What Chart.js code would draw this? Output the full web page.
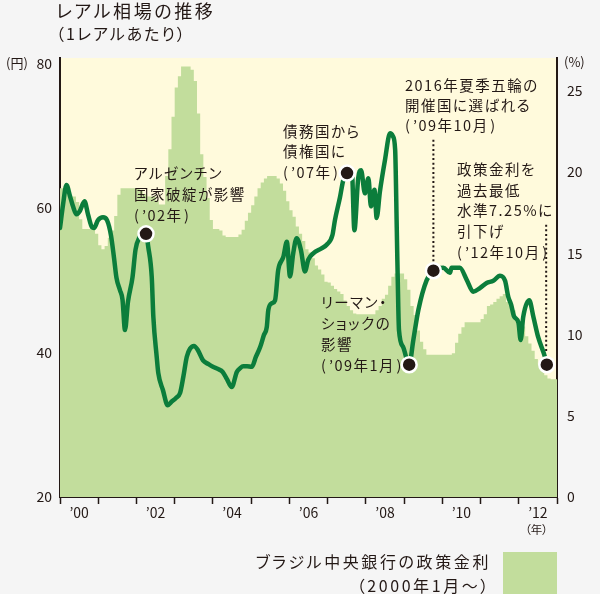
<!DOCTYPE html>
<html><head><meta charset="utf-8">
<script src="https://cdn.jsdelivr.net/npm/chart.js@4.4.1/dist/chart.umd.min.js"></script>
<style>
html,body{margin:0;padding:0;background:#f5f5f5;}
#wrap{position:relative;width:600px;height:594px;overflow:hidden;background:#f5f5f5;}
canvas{position:absolute;left:0;top:0;}
.t{position:absolute;color:#231815;font-family:'Liberation Sans Narrow','Noto Sans CJK JP',sans-serif;white-space:nowrap;font-feature-settings:"palt";}
.a{font-size:14.5px;letter-spacing:1.5px;}
.p{margin:0 1.5px;}
#legbox{position:absolute;left:503px;top:552px;width:54px;height:42px;background:#c2dd9c;}
</style></head><body>
<div id="wrap">
<canvas id="c" width="600" height="594"></canvas>
<div class="t" style="left:56px;top:0px;font-size:18px;letter-spacing:2.6px;line-height:21px;">レアル相場の推移</div>
<div class="t" style="left:56px;top:23px;font-size:16px;letter-spacing:2px;line-height:20px;">（1レアルあたり）</div>
<div class="t" style="left:6px;top:54px;font-size:13px;line-height:18px;">(円)</div>
<div class="t" style="left:564px;top:53px;font-size:13px;line-height:18px;">(%)</div>
<div class="t" style="left:525px;top:521px;font-size:11.5px;line-height:16px;">（年）</div>
<div class="t a" style="left:134px;top:162px;line-height:21px;">アルゼンチン<br>国家破綻が影響<br>(<span class="p">’02年</span>)</div>
<div class="t a" style="left:283px;top:121px;line-height:20.3px;">債務国から<br>債権国に<br>(<span class="p">’07年</span>)</div>
<div class="t a" style="left:405px;top:75px;line-height:20px;">2016年夏季五輪の<br>開催国に選ばれる<br>(<span class="p">’09年10月</span>)</div>
<div class="t a" style="left:457px;top:159px;line-height:20.7px;">政策金利を<br>過去最低<br>水準7.25%に<br>引下げ<br>(<span class="p">’12年10月</span>)</div>
<div class="t a" style="left:321px;top:291px;line-height:21.1px;">リーマン・<br>ショックの<br>影響<br>(<span class="p">’09年1月</span>)</div>
<div class="t" style="right:109px;top:549px;font-size:16px;letter-spacing:2.6px;line-height:24.3px;text-align:right;">ブラジル中央銀行の政策金利<br>（2000年1月～）</div>
<div id="legbox"></div>
</div>
<script>
// ---- data ----
// Brazil central bank policy rate (Selic), monthly, Jan 2000 .. Dec 2012 (%)
const selicMonthly = [
 19,19,18.85,18.5,18.5,18.15,17.1,16.5,16.5,16.5,16.5,16.2,
 15.5,15.25,15.45,15.95,16.4,17.3,18.6,19,19,19,19,19,
 19,18.9,18.65,18.5,18.5,18.5,18.25,18,18,19.75,21.4,23.4,
 25.2,25.9,26.5,26.5,26.5,26.3,25.6,23.6,21.1,19.7,18.4,17.05,
 16.5,16.5,16.4,16.1,16,16,16,16,16.15,16.45,17,17.5,
 17.95,18.5,19,19.35,19.6,19.75,19.75,19.75,19.6,19.3,18.85,18.2,
 17.65,17.25,16.65,16.2,15.75,15.25,15.05,14.7,14.25,14.0,13.7,13.25,
 13.2,13,12.8,12.65,12.5,12.1,11.75,11.5,11.3,11.25,11.25,11.25,
 11.25,11.25,11.25,11.5,11.75,12.2,12.45,13,13.55,13.75,13.75,13.75,
 13.4,12.75,11.75,11.2,10.25,9.55,9.1,8.75,8.75,8.75,8.75,8.75,
 8.75,8.75,8.75,8.85,9.5,10.05,10.45,10.75,10.75,10.75,10.75,10.75,
 10.95,11.25,11.75,11.85,12,12.2,12.35,12.5,12,11.8,11.5,11,
 10.8,10.5,9.9,9.45,9,8.5,8.15,7.95,7.5,7.3,7.25,7.25
];
// Real exchange rate (yen per 1 real); x = months since Jan 2000
const rateMonths = [0,0.94,2.04,3.14,4.08,5.18,6.28,7.69,8.79,10.04,10.67,11.93,13.5,14.75,16.0,16.95,17.73,18.83,19.62,20.4,21.34,22.76,23.7,24.8,27.0,27.7,28.8,29.3,30.35,30.85,32.3,33.8,35.06,36.4,37.7,38.7,39.8,40.8,42.06,43.3,44.9,46.5,48.0,49.6,51.07,52.4,53.9,55.5,56.5,57.5,58.7,60.2,61.5,62.8,64.0,64.9,65.4,66.5,67.5,68.5,70.1,71.2,72.2,73.2,74.3,75.6,76.9,77.9,79.5,82.1,83.7,85.5,86.3,87.9,88.9,90.1,91.6,92.4,93.6,94.5,95.7,96.8,97.6,98.7,99.4,100.4,102.0,103.6,104.5,105.2,105.7,106.2,106.4,107.75,109.6,110.9,112.5,115.1,117.2,120.3,122.4,122.9,125.5,127.7,129.7,131.8,133.9,136.0,138.1,139.7,140.7,141.6,142.5,143.9,144.6,145.4,147.3,148.6,150.1,152.2,152.8];
const rateValues = [57.2,60.4,63.15,61.6,60.2,59.1,59.6,60.9,59.1,57.3,57.2,58.3,58.7,58.3,56.2,53.1,50.3,48.6,47.3,43.1,47.0,50.4,54.2,55.8,56.4,54.6,50.4,44.9,39.4,37.15,34.8,32.7,33.2,33.7,34.4,36.6,39.4,40.5,40.9,40.3,38.9,38.4,38.0,37.7,37.3,36.3,35.2,37.3,37.8,38.1,38.1,38.0,39.4,40.7,42.4,43.5,45.9,46.8,47.2,51.4,53.2,55.3,50.5,53.7,55.8,54.2,51.2,52.8,53.7,54.4,54.9,56.2,58.3,61.5,63.8,64.8,65.2,56.9,64.1,65.2,62.0,64.1,60.2,62.5,58.6,62.2,66.6,70.3,69.9,68.0,57.3,45.9,43.1,40.7,38.3,41.7,45.9,50.0,51.3,51.7,51.0,51.7,51.7,50.0,48.4,48.9,49.6,49.9,50.6,49.9,47.7,46.6,45.0,44.1,41.7,44.9,47.2,44.9,42.1,39.4,38.3];
// Annotated events (month, yen)
const eventMonths = [27.0, 90.1, 109.6, 117.2, 152.8];
const eventValues = [56.4, 64.8, 38.3, 51.3, 38.3];
// leader lines (month, yen from, yen to)
const leaderMonths = [117.2, 152.6];
const leaderFrom = [52.6, 40.2];
const leaderTo = [69.6, 57.9];
const yearLabels = ['’00','’02','’04','’06','’08','’10','’12'];
const leftTicks = [20,40,60,80];
const rightTicks = [0,5,10,15,20,25];

// ---- build ----
const INK = '#231815';
const selicPts = [{x:0,y:selicMonthly[0]}];
selicMonthly.forEach((v,i)=>selicPts.push({x:i+0.5,y:v}));
selicPts.push({x:156,y:selicMonthly[selicMonthly.length-1]});
const ratePts = rateMonths.map((m,i)=>({x:m,y:rateValues[i]}));
const eventPts = eventMonths.map((m,i)=>({x:m,y:eventValues[i]}));
const leaderSets = leaderMonths.map((m,i)=>({
  data:[{x:m,y:leaderFrom[i]},{x:m,y:leaderTo[i]}],
  borderColor:INK, borderWidth:2, borderDash:[2,2.6], pointRadius:0, order:1, yAxisID:'y', fill:false
}));
const tickFont = {family:"'Liberation Sans Narrow','Noto Sans CJK JP',sans-serif", size:14};

const bgPlugin = {
  id:'plotbg',
  beforeDraw(chart){
    const {ctx, chartArea:a} = chart;
    ctx.save();
    ctx.fillStyle = '#fffadc';
    ctx.fillRect(a.left, a.top, a.right-a.left, a.bottom-a.top);
    ctx.restore();
  }
};

new Chart(document.getElementById('c'), {
  type:'line',
  data:{datasets:[
    {data:eventPts, showLine:false, pointRadius:7.5, pointHoverRadius:7.5, pointBackgroundColor:INK, pointBorderColor:'#ffffff', pointBorderWidth:2.5, order:0, yAxisID:'y'},
    ...leaderSets,
    {data:ratePts, borderColor:'#0b7d3b', borderWidth:4.5, pointRadius:0, cubicInterpolationMode:'monotone', borderJoinStyle:'round', borderCapStyle:'round', order:2, yAxisID:'y', fill:false},
    {data:selicPts, stepped:'middle', fill:'origin', backgroundColor:'#c2dd9c', borderWidth:0, pointRadius:0, order:3, yAxisID:'y1'}
  ]},
  options:{
    responsive:false, animation:false, devicePixelRatio:1,
    layout:{padding:{top:58,left:0,right:0,bottom:0}},
    plugins:{legend:{display:false}, tooltip:{enabled:false}},
    scales:{
      x:{type:'linear', min:0, max:156, position:'bottom',
        afterBuildTicks(s){ const t=[]; for(let v=0;v<=156;v+=6) t.push({value:v}); s.ticks=t; },
        afterFit(s){ s.height = 97; },
        ticks:{autoSkip:false, maxRotation:0, minRotation:0, padding:0, color:INK, font:tickFont,
          callback(v){ return (v%24===6) ? yearLabels[(v-6)/24] : ''; }},
        grid:{display:true, drawOnChartArea:false, drawTicks:true, tickLength:7, tickWidth:1.5,
          tickColor(c){ return (c.tick && c.tick.value%12===0) ? INK : 'rgba(0,0,0,0)'; }},
        border:{display:true, color:INK, width:2}
      },
      y:{type:'linear', position:'left', min:20, max:80.72,
        afterBuildTicks(s){ s.ticks = leftTicks.map(v=>({value:v})); },
        afterFit(s){ s.width = 60; },
        ticks:{padding:8, color:INK, font:tickFont},
        grid:{display:true, drawOnChartArea:false, drawTicks:false},
        border:{display:true, color:INK, width:2}
      },
      y1:{type:'linear', position:'right', min:0, max:27.02,
        afterBuildTicks(s){ s.ticks = rightTicks.map(v=>({value:v})); },
        afterFit(s){ s.width = 43; },
        ticks:{padding:10, color:INK, font:tickFont},
        grid:{display:true, drawOnChartArea:false, drawTicks:false},
        border:{display:true, color:INK, width:2}
      }
    }
  },
  plugins:[bgPlugin]
});
</script>
</body></html>
